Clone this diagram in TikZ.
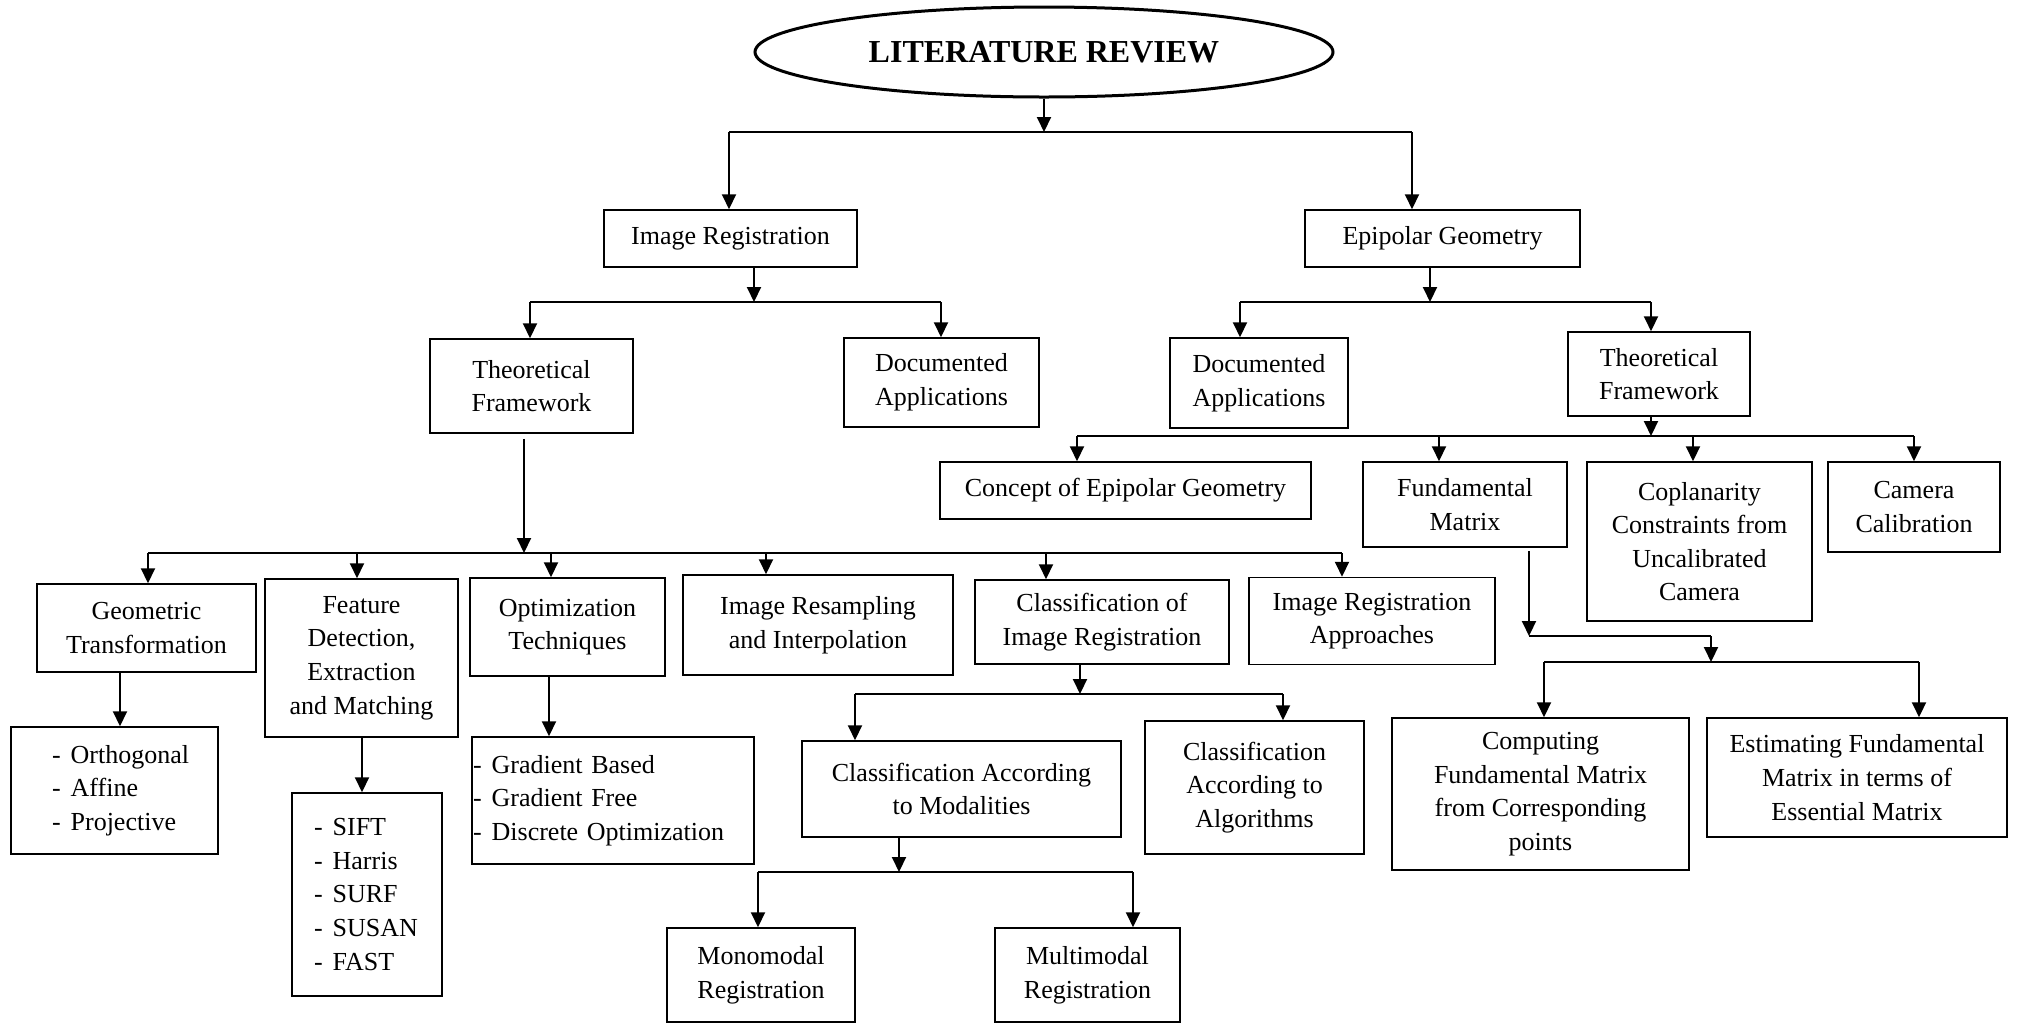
\documentclass[tikz,border=0pt]{standalone}
\usepackage{fontspec}
\setmainfont{Liberation Serif}
\usetikzlibrary{arrows.meta,shapes.geometric}
% one bullet line of a method list, kept on a single line
\newcommand\lstitem[1]{\mbox{-\hspace{5pt}#1}}
\begin{document}
\begin{tikzpicture}[x=0.5pt,y=-0.5pt,
  box/.style={draw, line width=0.75pt, inner sep=0pt, align=center,
    font=\fontsize{13}{16.8}\selectfont},
  wh/.style 2 args={minimum width=#1pt, minimum height=#2pt},
  listbox/.style={box, align=left},
  link/.style={line width=1pt},
  arr/.style={link, -{Triangle[length=7.5pt,width=7pt]}},
]
\useasboundingbox (0,0) rectangle (2019,1024);

% ---------- title ----------
\node[ellipse, draw, line width=1.5pt, minimum width=289pt, minimum height=45pt,
      inner sep=0pt, font=\fontsize{16}{19}\selectfont\bfseries]
      (LR) at (1044,52) {LITERATURE REVIEW};

% ---------- first level ----------
\node[box, wh={126.5}{28.5}] (IR) at (730.5,238.5) {Image Registration};
\node[box, wh={137.5}{28.5}] (EG) at (1442.5,238.5) {Epipolar Geometry};

% ---------- second level ----------
\node[box, wh={101.5}{47}]   (TFL) at (531.5,386) {Theoretical\\Framework};
\node[box, wh={97.5}{44.5}]  (DAL) at (941.5,382.5) {Documented\\Applications};
\node[box, wh={89}{45}]      (DAR) at (1259,383) {Documented\\Applications};
\node[box, wh={91}{42}]      (TFR) at (1659,374) {Theoretical\\Framework};

% ---------- epipolar geometry topics ----------
\node[box, wh={185.5}{28.5}] (CEG) at (1125.5,490.5) {Concept of Epipolar Geometry};
\node[box, wh={102}{42.5}]   (FM)  at (1465,504.5) {Fundamental\\Matrix};
\node[box, wh={112.5}{79.5}] (CC)  at (1699.5,541.5) {Coplanarity\\Constraints from\\Uncalibrated\\Camera};
\node[box, wh={86}{45}]      (CAM) at (1914,507) {Camera\\Calibration};
\node[box, wh={148.5}{76}]   (CFM) at (1540.5,794) {Computing\\Fundamental Matrix\\from Corresponding\\points};
\node[box, wh={150}{59.5}]   (EFM) at (1857,777.5) {Estimating Fundamental\\Matrix in terms of\\Essential Matrix};

% ---------- image registration topics ----------
\node[box, wh={109.5}{44}]   (GT)  at (146.5,628) {Geometric\\Transformation};
\node[box, wh={96.5}{79}]    (FD)  at (361.5,658) {Feature\\Detection,\\Extraction\\and Matching};
\node[box, wh={97.5}{49}]    (OT)  at (567.5,627) {Optimization\\Techniques};
\node[box, wh={135}{50}]     (IRI) at (818,625) {Image Resampling\\and Interpolation};
\node[box, wh={127}{42}]     (CIR) at (1102,622) {Classification of\\Image Registration};
\node[box, wh={123}{43.5}]   (IRA) at (1372,621) {Image Registration\\Approaches};

\node[listbox, text width=62.5pt, inner xsep=20.5pt, minimum height=63.5pt]
      (LGT) at (114.5,790.5)
      {\lstitem{Orthogonal}\\\lstitem{Affine}\\\lstitem{Projective}};
\node[listbox, text width=53pt, inner xsep=11pt, minimum height=101.5pt]
      (LFD) at (367,894.5)
      {\lstitem{SIFT}\\\lstitem{Harris}\\\lstitem{SURF}\\\lstitem{SUSAN}\\\lstitem{FAST}};
\node[listbox, text width=140pt, inner xsep=0.5pt, minimum height=63.5pt]
      (LOT) at (613,800.5)
      {\lstitem{Gradient Based}\\\lstitem{Gradient Free}\\\lstitem{Discrete Optimization}};

\node[box, wh={159.5}{48}]   (CMOD)  at (961.5,789) {Classification According\\to Modalities};
\node[box, wh={109.5}{66.5}] (CALG)  at (1254.5,787.5) {Classification\\According to\\Algorithms};
\node[box, wh={94}{47}]      (MONO)  at (761,975) {Monomodal\\Registration};
\node[box, wh={92.5}{47}]    (MULTI) at (1087.5,975) {Multimodal\\Registration};

% ---------- connectors ----------
% title -> two main themes
\coordinate (b0a) at (729,132);
\coordinate (b0b) at (1412,132);
\draw[arr] (LR.south) -- (LR.south |- b0a);
\draw[link] (b0a) -- (b0b);
\draw[arr] (b0a) -- (b0a |- IR.north);
\draw[arr] (b0b) -- (b0b |- EG.north);

% image registration
\coordinate (b1s) at (754,302);
\coordinate (b1a) at (530,302);
\coordinate (b1b) at (941,302);
\draw[arr] (b1s |- IR.south) -- (b1s);
\draw[link] (b1a) -- (b1b);
\draw[arr] (b1a) -- (b1a |- TFL.north);
\draw[arr] (b1b) -- (b1b |- DAL.north);

% epipolar geometry
\coordinate (b2s) at (1430,302);
\coordinate (b2a) at (1240,302);
\coordinate (b2b) at (1651,302);
\draw[arr] (b2s |- EG.south) -- (b2s);
\draw[link] (b2a) -- (b2b);
\draw[arr] (b2a) -- (b2a |- DAR.north);
\draw[arr] (b2b) -- (b2b |- TFR.north);

% epipolar theoretical framework
\coordinate (b3s) at (1651,436);
\coordinate (b3a) at (1077,436);
\coordinate (b3b) at (1439,436);
\coordinate (b3c) at (1693,436);
\coordinate (b3d) at (1914,436);
\draw[arr] (b3s |- TFR.south) -- (b3s);
\draw[link] (b3a) -- (b3d);
\draw[arr] (b3a) -- (b3a |- CEG.north);
\draw[arr] (b3b) -- (b3b |- FM.north);
\draw[arr] (b3c) -- (b3c |- CC.north);
\draw[arr] (b3d) -- (b3d |- CAM.north);

% registration theoretical framework
\coordinate (b4s) at (524,553);
\coordinate (b4a) at (148,553);
\coordinate (b4b) at (357,553);
\coordinate (b4c) at (551,553);
\coordinate (b4d) at (766,553);
\coordinate (b4e) at (1046,553);
\coordinate (b4f) at (1342,553);
\draw[arr] ([yshift=-2.5pt]b4s |- TFL.south) -- (b4s);
\draw[link] (b4a) -- (b4f);
\draw[arr] (b4a) -- (b4a |- GT.north);
\draw[arr] (b4b) -- (b4b |- FD.north);
\draw[arr] (b4c) -- (b4c |- OT.north);
\draw[arr] (b4d) -- (b4d |- IRI.north);
\draw[arr] (b4e) -- (b4e |- CIR.north);
\draw[arr] (b4f) -- (b4f |- IRA.north);

% topic -> list of methods
\coordinate (c1) at (120,700);
\coordinate (c2) at (362,760);
\coordinate (c3) at (549,700);
\draw[arr] (c1 |- GT.south) -- (c1 |- LGT.north);
\draw[arr] (c2 |- FD.south) -- (c2 |- LFD.north);
\draw[arr] (c3 |- OT.south) -- (c3 |- LOT.north);

% classification of image registration
\coordinate (b5s) at (1080,694);
\coordinate (b5a) at (855,694);
\coordinate (b5b) at (1283,694);
\draw[arr] (b5s |- CIR.south) -- (b5s);
\draw[link] (b5a) -- (b5b);
\draw[arr] (b5a) -- (b5a |- CMOD.north);
\draw[arr] (b5b) -- (b5b |- CALG.north);

% classification according to modalities
\coordinate (b6s) at (899,872);
\coordinate (b6a) at (758,872);
\coordinate (b6b) at (1133,872);
\draw[arr] (b6s |- CMOD.south) -- (b6s);
\draw[link] (b6a) -- (b6b);
\draw[arr] (b6a) -- (b6a |- MONO.north);
\draw[arr] (b6b) -- (b6b |- MULTI.north);

% fundamental matrix
\coordinate (f1) at (1529,636);
\coordinate (f2) at (1711,636);
\coordinate (b7s) at (1711,662);
\coordinate (b7a) at (1544,662);
\coordinate (b7b) at (1919,662);
\draw[arr] ([yshift=-1.5pt]f1 |- FM.south) -- (f1);
\draw[link] (f1) -- (f2);
\draw[arr] (f2) -- (b7s);
\draw[link] (b7a) -- (b7b);
\draw[arr] (b7a) -- (b7a |- CFM.north);
\draw[arr] (b7b) -- (b7b |- EFM.north);
\end{tikzpicture}
\end{document}
